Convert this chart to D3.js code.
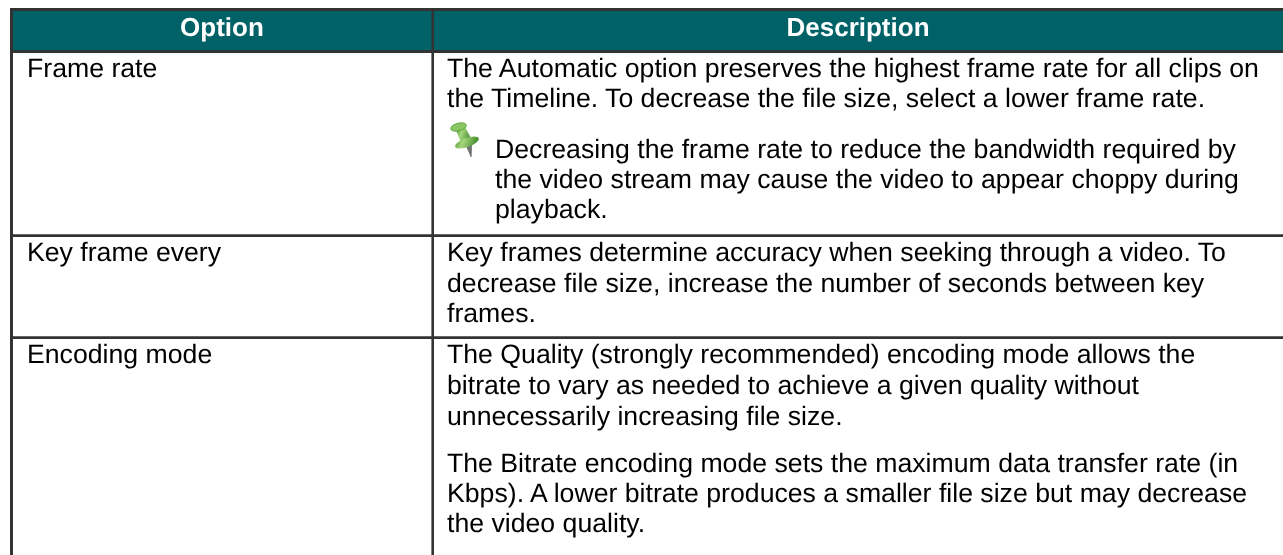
<!DOCTYPE html>
<html><head><meta charset="utf-8"><style>html,body{margin:0;padding:0;background:#fff}svg{display:block}text{text-rendering:geometricPrecision}</style>
<script src="https://cdnjs.cloudflare.com/ajax/libs/d3/7.8.5/d3.min.js"></script></head><body><svg id="c" width="1283" height="555"></svg>
<script>
const headers=["Option","Description"];
const headerCenters=[222,858];
const options=["Frame rate","Key frame every","Encoding mode"];
const optionBase=[77,261,363];
const descLines=[
["The Automatic option preserves the highest frame rate for all clips on",77,0],
["the Timeline. To decrease the file size, select a lower frame rate.",107,0],
["Decreasing the frame rate to reduce the bandwidth required by",158,1],
["the video stream may cause the video to appear choppy during",188,1],
["playback.",218,1],
["Key frames determine accuracy when seeking through a video. To",261,0],
["decrease file size, increase the number of seconds between key",292,0],
["frames.",322,0],
["The Quality (strongly recommended) encoding mode allows the",363,0],
["bitrate to vary as needed to achieve a given quality without",394,0],
["unnecessarily increasing file size.",425,0],
["The Bitrate encoding mode sets the maximum data transfer rate (in",472,0],
["Kbps). A lower bitrate produces a smaller file size but may decrease",502,0],
["the video quality.",532,0]];
const rowLines=[235.7,337.7];
const svg=d3.select("#c");
const font="'Liberation Sans',Arial,sans-serif";
const dark="#333333",teal="#006167";
svg.append("rect").attr("x",12).attr("y",10).attr("width",1271).attr("height",41).attr("fill",teal);
const line=(x1,y1,x2,y2,w)=>svg.append("line").attr("x1",x1).attr("y1",y1).attr("x2",x2).attr("y2",y2).attr("stroke",dark).attr("stroke-width",w);
line(10,9.5,1283,9.5,3);line(10,51.5,1283,51.5,3);
line(11.5,8,11.5,555,3);line(432.7,8,432.7,555,2.6);
rowLines.forEach(y=>line(10,y,1283,y,2.7));
const defs=svg.append("defs");
defs.append("filter").attr("id","soft").append("feGaussianBlur").attr("stdDeviation",0.3);
const gr=defs.append("linearGradient").attr("id","pin").attr("x1",0).attr("y1",0).attr("x2",1).attr("y2",0.3);
[[0,"#4f9a35"],[0.4,"#a6d67e"],[1,"#4a9232"]].forEach(s=>gr.append("stop").attr("offset",s[0]).attr("stop-color",s[1]));
const txt=svg.append("g").attr("filter","url(#soft)");
txt.selectAll("text.h").data(headers).join("text").attr("class","h").attr("x",(d,i)=>headerCenters[i]).attr("y",35.5).attr("text-anchor","middle").attr("font-family",font).attr("font-weight","bold").attr("font-size",26).attr("fill","#fff").text(d=>d);
txt.selectAll("text.o").data(options).join("text").attr("class","o").attr("x",27).attr("y",(d,i)=>optionBase[i]).attr("font-family",font).attr("font-size",26.67).attr("fill","#000").text(d=>d);
txt.selectAll("text.d").data(descLines).join("text").attr("class","d").attr("x",d=>d[2]?495:447).attr("y",d=>d[1]).attr("font-family",font).attr("font-size",26.67).attr("fill","#000").text(d=>d[0]);
const g=svg.append("g").attr("filter","url(#soft)");
g.append("path").attr("d","M466 146 L470.7 157 L471.6 157 L472 144 Z").attr("fill","#6f7570");
g.append("path").attr("d","M456 130 L465 127 L472 140 L461 143 Z").attr("fill","url(#pin)");
g.append("ellipse").attr("cx",467).attr("cy",142.5).attr("rx",12.5).attr("ry",4.5).attr("transform","rotate(-20 467 142.5)").attr("fill","url(#pin)");
g.append("ellipse").attr("cx",458.5).attr("cy",127).attr("rx",8).attr("ry",3.8).attr("transform","rotate(-15 458.5 127)").attr("fill","#8cc763").attr("stroke","#4f9a35").attr("stroke-width",0.8);
</script></body></html>
